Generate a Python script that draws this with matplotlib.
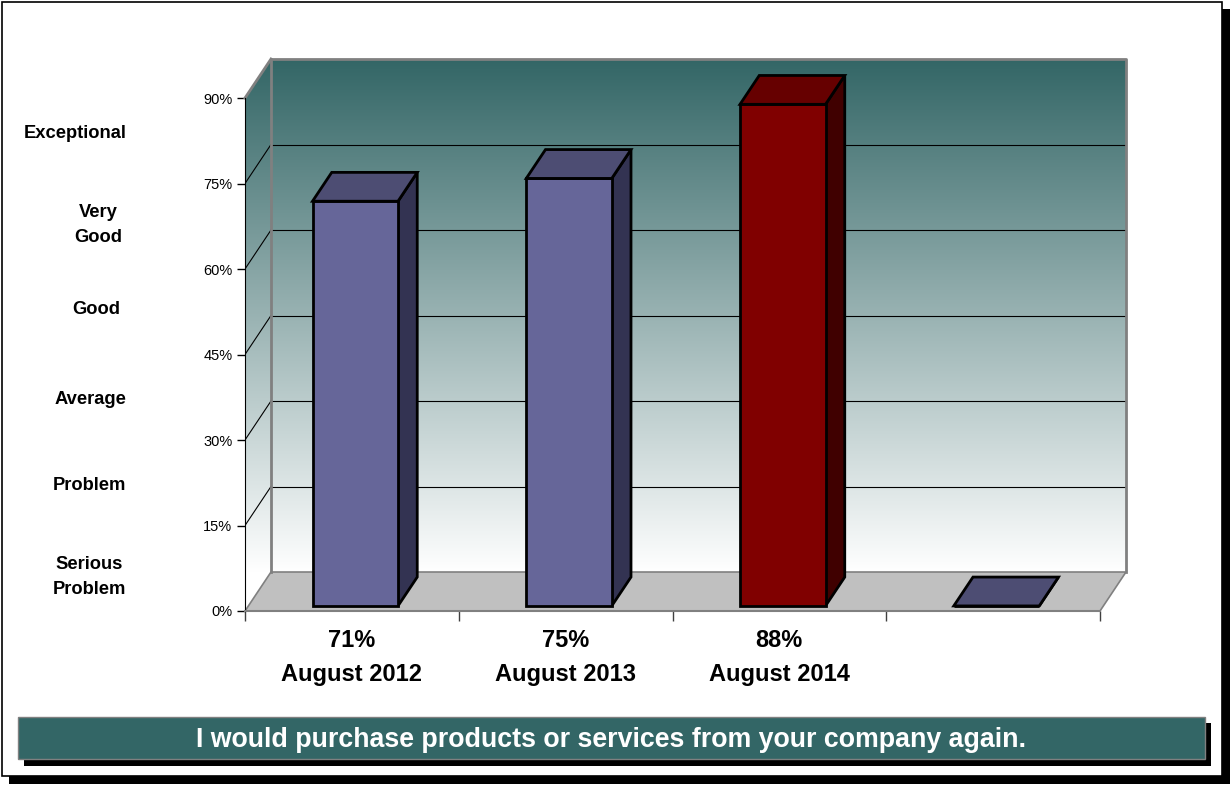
"""
purchase_again_chart.py - 3D-style bar chart for the "purchase again" survey item
"""

import numpy as np
import matplotlib
matplotlib.use("Agg")
import matplotlib.pyplot as plt
from matplotlib.patches import Polygon, Rectangle

plt.rcParams["font.family"] = ["Liberation Sans", "DejaVu Sans"]

# ---------------------------------------------------------------------------
# DATA
# ---------------------------------------------------------------------------
periods = ["August 2012", "August 2013", "August 2014", ""]
scores = [71, 75, 88, 0]
score_labels = ["71%", "75%", "88%", ""]
y_ticks = [0, 15, 30, 45, 60, 75, 90]
rating_labels = ["Exceptional", "Very\nGood", "Good", "Average", "Problem", "Serious\nProblem"]
rating_pos = [(75, 134), (98, 225), (96, 310), (90, 400), (89, 486), (89, 577)]
title_text = "I would purchase products or services from your company again."

# front / top / side face colours per bar
FRONT = ["#666699", "#666699", "#800000", "#666699"]
TOP = ["#4d4d73", "#4d4d73", "#660000", "#4d4d73"]
SIDE = ["#333352", "#333352", "#400000", "#333352"]

TEAL = "#336666"
W, H = 1231, 785

# depth of the box in data units, bar depth range and width
DX = 26 / (855 / 4)
DY = 39 / (513 / 90)
F0, F1 = 0.13, 0.87
BAR_W = 0.4


def wall_gradient(ymax, rows=600):
    # colour goes from white at the floor to teal at the top of the back wall
    y = np.linspace(0, ymax, rows)
    t = np.clip((y - DY) / 90.0, 0, 1)[:, None]
    top = np.array(matplotlib.colors.to_rgb(TEAL))
    img = (1 - t) * np.ones(3) + t * top
    return img[:, None, :]


def draw_frame(fig):
    bg = fig.add_axes([0, 0, 1, 1], zorder=0)
    bg.set_xlim(0, W)
    bg.set_ylim(H, 0)
    bg.axis("off")

    # outer frame with drop shadow
    bg.add_patch(Rectangle((9, 9), 1221, 775, facecolor="black", edgecolor="none"))
    bg.add_patch(Rectangle((2, 2), 1220, 774, facecolor="white", edgecolor="black", lw=1.2))

    # title banner with drop shadow
    bg.add_patch(Rectangle((24, 723), 1187, 43, facecolor="black", edgecolor="none"))
    bg.add_patch(Rectangle((18, 717), 1187, 42, facecolor=TEAL, edgecolor="#808080", lw=1))
    bg.text(611, 740, title_text, color="white", fontsize=19.3, fontweight="bold",
            ha="center", va="center")

    for label, (x, y) in zip(rating_labels, rating_pos):
        bg.text(x, y, label, fontsize=13.2, fontweight="bold", ha="center", va="center",
                linespacing=1.55)


def draw_box(ax):
    n = len(scores)
    top = 90 + DY

    grad = wall_gradient(top)
    ax.imshow(grad, extent=[DX, n + DX, 0, top], origin="lower", aspect="auto", zorder=0)
    side = ax.imshow(grad, extent=[0, DX, 0, top], origin="lower", aspect="auto", zorder=0)
    clip = Polygon([(0, 0), (DX, DY), (DX, top), (0, 90)], closed=True, transform=ax.transData)
    side.set_clip_path(clip)

    # floor
    ax.add_patch(Polygon([(0, 0), (n, 0), (n + DX, DY), (DX, DY)], closed=True,
                         facecolor="#c0c0c0", edgecolor="#808080", lw=1.2, zorder=1))

    # gridlines on back and side walls
    for t in y_ticks[1:-1]:
        ax.plot([DX, n + DX], [t + DY, t + DY], color="black", lw=0.8, zorder=1)
        ax.plot([0, DX], [t, t + DY], color="black", lw=0.8, zorder=1)

    # wall outline
    ax.plot([DX, DX, n + DX, n + DX], [DY, top, top, DY], color="#808080", lw=2,
            zorder=2, clip_on=False)
    ax.plot([0, DX], [90, top], color="#808080", lw=2, zorder=2, clip_on=False)


def draw_bars(ax):
    for i, v in enumerate(scores):
        x0 = i + 0.5 - BAR_W / 2
        x1 = i + 0.5 + BAR_W / 2
        ax0, ay0 = F0 * DX, F0 * DY
        bx0, by0 = F1 * DX, F1 * DY
        kw = dict(closed=True, edgecolor="black", lw=2, joinstyle="miter", zorder=3)

        ax.add_patch(Polygon([(x1 + ax0, ay0), (x1 + bx0, by0), (x1 + bx0, v + by0),
                              (x1 + ax0, v + ay0)], facecolor=SIDE[i], **kw))
        ax.add_patch(Polygon([(x0 + ax0, ay0), (x1 + ax0, ay0), (x1 + ax0, v + ay0),
                              (x0 + ax0, v + ay0)], facecolor=FRONT[i], **kw))
        ax.add_patch(Polygon([(x0 + ax0, v + ay0), (x1 + ax0, v + ay0), (x1 + bx0, v + by0),
                              (x0 + bx0, v + by0)], facecolor=TOP[i], **kw))


def main():
    fig = plt.figure(figsize=(W / 100, H / 100), dpi=100)
    draw_frame(fig)

    n = len(scores)
    left, bottom = 245, 611
    width = 855 + 26
    height = 513 + 39
    ax = fig.add_axes([left / W, 1 - bottom / H, width / W, height / H], zorder=1)
    ax.patch.set_visible(False)

    draw_box(ax)
    draw_bars(ax)

    ax.set_xlim(0, n + DX)
    ax.set_ylim(0, 90 + DY)

    for s in ["top", "right"]:
        ax.spines[s].set_visible(False)
    ax.spines["left"].set_bounds(0, 90)
    ax.spines["left"].set_color("black")
    ax.spines["bottom"].set_bounds(0, n)
    ax.spines["bottom"].set_color("#808080")
    ax.spines["bottom"].set_linewidth(1.5)

    ax.set_yticks(y_ticks)
    ax.set_yticklabels([f"{t}%" for t in y_ticks])
    ax.tick_params(axis="y", length=6, width=1, pad=3, labelsize=10.5)

    ax.set_xticks(range(n + 1))
    ax.set_xticklabels([])
    ax.tick_params(axis="x", which="major", length=7, width=1, color="#404040")
    ax.set_xticks([i + 0.5 for i in range(n)], minor=True)
    ax.set_xticklabels([f"{s}\n{p}" if s else "" for s, p in zip(score_labels, periods)],
                       minor=True, fontsize=17, fontweight="bold", linespacing=1.6)
    ax.tick_params(axis="x", which="minor", length=0, pad=13)

    fig.savefig("out.png", dpi=100)
    plt.close(fig)


if __name__ == "__main__":
    main()
